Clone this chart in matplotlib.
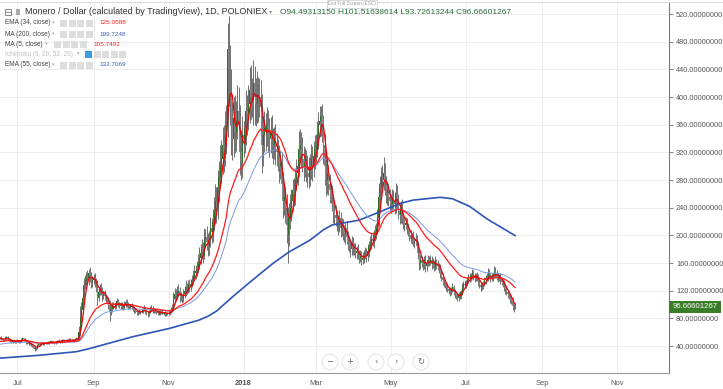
import numpy as np
import pandas as pd
import matplotlib
matplotlib.use("Agg")
import matplotlib.pyplot as plt
import matplotlib.dates as mdates
from matplotlib.patches import Rectangle, Ellipse
from matplotlib.ticker import FuncFormatter

plt.rcParams['font.family'] = ['Liberation Sans', 'DejaVu Sans']

# ---------------- data (daily) ----------------
start_date = "2017-06-16"
close_jun17 = [51, 52, 50, 48, 49, 52, 53, 50, 48, 47, 46, 47, 48, 46, 47]
close_jul17 = [48, 46, 47, 49, 51, 50, 47, 45, 44, 43, 44, 42, 40, 39, 35, 37, 41, 43, 42, 45,
               44, 43, 44, 45, 44, 46, 45, 47, 46, 45, 45]
close_aug17 = [46, 47, 48, 47, 46, 48, 49, 48, 47, 48, 49, 50, 49, 48, 47, 49, 50, 51, 50, 60,
               82, 92, 110, 128, 135, 140, 138, 146, 140, 132, 136]
close_sep17 = [138, 134, 128, 110, 118, 125, 120, 112, 116, 112, 108, 106, 100, 90, 94, 100, 98, 97, 102, 105,
               100, 98, 100, 97, 96, 101, 104, 100, 98, 97]
close_oct17 = [98, 96, 94, 92, 90, 89, 88, 90, 89, 91, 92, 94, 90, 87, 86, 89, 93, 95, 92, 90,
               91, 89, 88, 87, 90, 89, 88, 87, 88, 86, 87]
close_nov17 = [88, 90, 92, 95, 108, 115, 112, 118, 120, 112, 110, 108, 115, 120, 125, 122, 128, 126, 130, 135,
               140, 145, 148, 152, 160, 168, 175, 180, 172, 195]
close_dec17 = [198, 190, 185, 195, 210, 205, 220, 235, 250, 240, 270, 285, 300, 310, 330, 320, 345, 360, 470, 440,
               400, 360, 340, 370, 350, 365, 380, 360, 320, 305, 345]
close_jan18 = [340, 355, 380, 375, 390, 410, 400, 395, 420, 400, 390, 405, 395, 400, 385, 330, 345, 355, 350, 360,
               345, 340, 350, 335, 330, 340, 325, 320, 315, 300, 305]
close_feb18 = [275, 250, 255, 240, 215, 200, 225, 240, 250, 265, 260, 280, 290, 300, 325, 330, 320, 310, 300, 305,
               295, 290, 285, 300, 310, 300, 315, 325]
close_mar18 = [330, 345, 360, 365, 372, 360, 330, 300, 280, 290, 275, 265, 260, 250, 235, 230, 225, 220, 215, 225,
               210, 215, 205, 200, 210, 198, 190, 185, 180, 190, 182]
close_apr18 = [180, 175, 178, 172, 168, 170, 165, 168, 172, 175, 170, 178, 185, 190, 195, 192, 200, 205, 210, 225,
               255, 270, 285, 280, 290, 275, 260, 265, 255, 250]
close_may18 = [245, 255, 250, 245, 260, 250, 235, 230, 240, 225, 220, 215, 218, 210, 205, 200, 195, 198, 190, 192,
               195, 185, 175, 160, 165, 160, 158, 165, 155, 160, 165]
close_jun18 = [162, 165, 158, 160, 155, 163, 158, 155, 152, 145, 140, 135, 130, 128, 125, 122, 120, 118, 122, 125,
               118, 115, 112, 110, 115, 112, 118, 125, 130, 128]
close_jul18 = [132, 135, 140, 138, 142, 145, 140, 138, 142, 140, 132, 128, 125, 128, 130, 135, 138, 140, 145, 142,
               138, 140, 142, 148, 145, 140, 138, 140, 135, 132, 130]
close_aug18 = [125, 122, 118, 115, 112, 108, 105, 98, 94.49313150, 96.66601267]
first_open = 50.5

# upper / lower wick sizes, percent beyond the candle body
up_jun17 = [3, 2, 4, 2, 3, 4, 2, 3, 2, 3, 2, 3, 2, 2, 3]
lo_jun17 = [2, 3, 2, 3, 2, 2, 3, 2, 3, 2, 3, 2, 3, 2, 2]
up_jul17 = [3, 2, 3, 4, 3, 2, 3, 2, 3, 2, 3, 2, 3, 2, 5, 6, 4, 3, 2, 3, 2, 3, 2, 3, 2, 3, 2, 3, 2, 3, 2]
lo_jul17 = [2, 3, 2, 2, 3, 3, 2, 3, 2, 3, 2, 3, 4, 5, 7, 4, 3, 2, 3, 2, 3, 2, 3, 2, 3, 2, 3, 2, 3, 2, 3]
up_aug17 = [2, 3, 2, 3, 2, 3, 2, 3, 2, 3, 2, 3, 2, 3, 2, 3, 2, 3, 2, 15, 20, 12, 10, 8, 6, 5, 7, 4, 6, 5, 4]
lo_aug17 = [3, 2, 3, 2, 3, 2, 3, 2, 3, 2, 3, 2, 3, 2, 3, 2, 3, 2, 3, 3, 8, 10, 6, 5, 4, 6, 5, 7, 5, 6, 5]
up_sep17 = [4, 5, 3, 6, 5, 4, 5, 4, 3, 4, 3, 4, 5, 6, 5, 4, 3, 4, 3, 4, 3, 4, 3, 4, 3, 4, 3, 4, 3, 3]
lo_sep17 = [5, 6, 8, 10, 5, 4, 5, 6, 4, 5, 4, 5, 6, 15, 6, 5, 4, 3, 4, 3, 4, 3, 4, 3, 4, 3, 4, 3, 4, 3]
up_oct17 = [3, 4, 3, 4, 3, 2, 3, 4, 3, 4, 3, 5, 3, 2, 3, 4, 5, 4, 3, 2, 3, 2, 3, 2, 3, 2, 3, 2, 3, 2, 3]
lo_oct17 = [3, 2, 3, 4, 3, 4, 3, 2, 3, 2, 3, 2, 4, 3, 4, 3, 2, 3, 4, 3, 2, 3, 4, 3, 2, 3, 2, 3, 4, 3, 2]
up_nov17 = [3, 4, 5, 6, 10, 8, 6, 7, 8, 5, 6, 5, 7, 6, 8, 5, 6, 7, 5, 6, 7, 8, 6, 7, 8, 9, 7, 8, 6, 8]
lo_nov17 = [2, 3, 2, 3, 4, 6, 5, 4, 6, 7, 5, 6, 4, 5, 6, 5, 4, 6, 5, 4, 5, 4, 6, 5, 4, 5, 6, 5, 7, 4]
up_dec17 = [6, 8, 7, 6, 8, 7, 8, 9, 10, 8, 9, 8, 10, 9, 8, 9, 10, 8, 8, 10, 8, 10, 9, 8, 9, 8, 10, 9, 8, 10, 8]
lo_dec17 = [7, 6, 8, 7, 6, 8, 7, 6, 8, 9, 7, 8, 6, 8, 7, 9, 6, 8, 5, 12, 10, 12, 9, 8, 9, 8, 7, 9, 10, 8, 7]
up_jan18 = [6, 7, 8, 6, 7, 8, 9, 7, 8, 6, 7, 8, 6, 7, 6, 5, 8, 7, 6, 7, 6, 7, 6, 7, 6, 5, 6, 7, 6, 5, 6]
lo_jan18 = [8, 6, 7, 8, 6, 7, 8, 6, 9, 10, 8, 7, 8, 6, 8, 12, 9, 7, 8, 6, 7, 8, 6, 7, 8, 6, 7, 6, 7, 8, 6]
up_feb18 = [5, 6, 7, 6, 8, 12, 10, 8, 7, 6, 7, 6, 7, 6, 8, 7, 6, 7, 6, 7, 6, 7, 8, 6, 7, 6, 7, 6]
lo_feb18 = [8, 10, 8, 9, 12, 20, 8, 7, 8, 6, 7, 6, 5, 6, 5, 6, 7, 6, 7, 5, 6, 7, 6, 5, 6, 7, 5, 6]
up_mar18 = [5, 6, 5, 6, 4, 5, 4, 5, 6, 5, 4, 5, 4, 5, 4, 5, 6, 5, 4, 5, 4, 5, 4, 5, 4, 5, 4, 5, 4, 5, 4]
lo_mar18 = [6, 5, 6, 5, 6, 7, 8, 9, 8, 7, 6, 7, 5, 6, 7, 6, 5, 6, 7, 5, 6, 5, 6, 5, 6, 5, 6, 5, 6, 5, 6]
up_apr18 = [4, 5, 4, 5, 4, 5, 4, 5, 4, 5, 4, 5, 4, 5, 4, 5, 4, 5, 4, 6, 8, 6, 5, 6, 8, 5, 4, 5, 4, 5]
lo_apr18 = [5, 4, 5, 4, 5, 4, 5, 4, 5, 4, 5, 4, 5, 4, 5, 4, 5, 4, 5, 4, 5, 6, 5, 6, 5, 6, 5, 6, 5, 6]
up_may18 = [4, 5, 4, 5, 6, 5, 4, 5, 4, 5, 4, 3, 4, 3, 4, 3, 4, 3, 4, 3, 4, 3, 4, 3, 4, 3, 4, 3, 4, 3, 4]
lo_may18 = [5, 4, 5, 6, 5, 4, 5, 6, 5, 4, 5, 4, 3, 4, 3, 4, 3, 4, 3, 4, 3, 4, 5, 6, 5, 4, 5, 4, 5, 4, 3]
up_jun18 = [3, 4, 3, 5, 3, 4, 2, 4, 3, 4, 3, 4, 3, 2, 3, 4, 3, 4, 3, 5, 3, 4, 2, 4, 3, 4, 3, 5, 3, 4]
lo_jun18 = [4, 3, 4, 3, 4, 3, 4, 3, 4, 5, 4, 5, 4, 3, 4, 3, 4, 5, 4, 3, 4, 5, 4, 5, 4, 3, 4, 3, 4, 3]
up_jul18 = [3, 4, 3, 4, 3, 4, 3, 4, 3, 4, 3, 4, 3, 4, 3, 4, 3, 4, 5, 4, 3, 4, 3, 5, 4, 3, 4, 3, 4, 3, 4]
lo_jul18 = [3, 4, 3, 4, 3, 4, 3, 4, 3, 4, 4, 3, 4, 3, 4, 3, 4, 3, 4, 3, 4, 3, 4, 3, 4, 3, 4, 3, 4, 3, 4]
up_aug18 = [4, 3, 4, 3, 4, 3, 4, 5, 3, 5.02]
lo_aug18 = [4, 5, 4, 5, 4, 5, 4, 6, 5, 0.8]

# indicator starting values and MA(200)
ema34_seed = 46.0
ema55_seed = 42.0
ma200_dates = ["2017-06-16", "2017-07-18", "2017-08-18", "2017-08-29", "2017-10-03", "2017-11-02",
               "2017-11-26", "2017-12-03", "2017-12-10", "2017-12-23", "2018-01-08", "2018-01-25",
               "2018-02-07", "2018-02-24", "2018-03-07", "2018-03-14", "2018-04-05", "2018-04-22",
               "2018-05-08", "2018-05-19", "2018-06-10", "2018-06-20", "2018-07-04", "2018-07-18",
               "2018-08-10"]
ma200_vals = [22.4, 26.5, 31.8, 36.5, 53.5, 65.6, 77.6, 83, 90.5, 111, 135, 159.5,
              176, 193, 208, 215, 222, 234, 246, 251, 255, 253, 242, 224, 199.7]

month_ticks = ["2017-07-01", "2017-09-01", "2017-11-01", "2018-01-01", "2018-03-01",
               "2018-05-01", "2018-07-01", "2018-09-01", "2018-11-01"]
month_labels = ["Jul", "Sep", "Nov", "2018", "Mar", "May", "Jul", "Sep", "Nov"]
y_ticks = [40, 80, 120, 160, 200, 240, 280, 320, 360, 400, 440, 480, 520]

legend_rows = [("EMA (34, close)", "125.0588", "#ff2020"),
               ("MA (200, close)", "199.7248", "#3a5fb0"),
               ("MA (5, close)", "105.7492", "#ff2020"),
               ("Ichimoku (9, 26, 52, 26)", "", "#c8c8c8"),
               ("EMA (55, close)", "132.7069", "#3a5fb0")]

# ---------------- assemble ----------------
closes = np.array(close_jun17 + close_jul17 + close_aug17 + close_sep17 + close_oct17 + close_nov17 +
                  close_dec17 + close_jan18 + close_feb18 + close_mar18 + close_apr18 + close_may18 +
                  close_jun18 + close_jul18 + close_aug18, dtype=float)
upw = np.array(up_jun17 + up_jul17 + up_aug17 + up_sep17 + up_oct17 + up_nov17 + up_dec17 + up_jan18 +
               up_feb18 + up_mar18 + up_apr18 + up_may18 + up_jun18 + up_jul18 + up_aug18, dtype=float)
low_w = np.array(lo_jun17 + lo_jul17 + lo_aug17 + lo_sep17 + lo_oct17 + lo_nov17 + lo_dec17 + lo_jan18 +
                 lo_feb18 + lo_mar18 + lo_apr18 + lo_may18 + lo_jun18 + lo_jul18 + lo_aug18, dtype=float)
opens = np.concatenate([[first_open], closes[:-1]])
highs = np.maximum(opens, closes) * (1 + upw / 100)
lows = np.minimum(opens, closes) * (1 - low_w / 100)
dates = pd.date_range(start_date, periods=len(closes), freq="D")
xd = mdates.date2num(dates.to_pydatetime())

cs = pd.Series(closes)
ma5 = cs.rolling(5, min_periods=1).mean().values
ema34 = pd.Series(np.concatenate([[ema34_seed], closes])).ewm(span=34, adjust=False).mean().values[1:]
ema55 = pd.Series(np.concatenate([[ema55_seed], closes])).ewm(span=55, adjust=False).mean().values[1:]
ma200_x = mdates.date2num(pd.to_datetime(ma200_dates).to_pydatetime())

# ---------------- draw ----------------
W, H = 723, 389
fig = plt.figure(figsize=(W / 100, H / 100), dpi=100)
ax = fig.add_axes([0, 16 / H, 669 / W, (373 - 3) / H])

t0 = pd.Timestamp("2017-07-01")
x_left = mdates.date2num((t0 + pd.Timedelta(days=-14.2)).to_pydatetime())
x_right = mdates.date2num((t0 + pd.Timedelta(days=530.3)).to_pydatetime())
ax.set_xlim(x_left, x_right)
ax.set_ylim(1, 536)

ax.grid(True, color="#eeeeee", lw=0.8)
ax.set_axisbelow(True)

up = closes >= opens
dn = ~up
ax.vlines(xd, lows, highs, color="#5a5a5a", lw=0.6, zorder=2)
ax.bar(xd[up], (closes - opens)[up], bottom=opens[up], width=0.8, color="#2a6e2a", lw=0, zorder=3)
ax.bar(xd[dn], (opens - closes)[dn], bottom=closes[dn], width=0.8, color="#8a8a8a", lw=0, zorder=3)

ax.plot(ma200_x, ma200_vals, color="#2c55b5", lw=1.2, zorder=4)
ax.plot(xd, ema55, color="#7d98da", lw=0.7, zorder=4)
ax.plot(xd, ema34, color="#ff1a1a", lw=0.9, zorder=5)
ax.plot(xd, ma5, color="#ee0000", lw=0.9, zorder=5)

for s in ["left", "top"]:
    ax.spines[s].set_visible(False)
ax.spines["right"].set_color("#7a7a7a")
ax.spines["bottom"].set_color("#9a9a9a")

ax.set_yticks(y_ticks)
ax.yaxis.set_major_formatter(FuncFormatter(lambda v, p: f"{v:.8f}"))
ax.yaxis.tick_right()
ax.tick_params(axis="y", length=3, color="#888888", labelsize=5.3, labelcolor="#555555", pad=2)

ax.set_xticks(mdates.date2num(pd.to_datetime(month_ticks).to_pydatetime()))
ax.set_xticklabels(month_labels)
ax.tick_params(axis="x", length=0, labelsize=5.4, labelcolor="#555555", pad=5)
ax.get_xticklabels()[3].set_fontweight("bold")

def fx(x):
    return x / W

def fy(y):
    return 1 - y / H

# top border
fig.add_artist(plt.Line2D([0, 1], [fy(2), fy(2)], color="#dddddd", lw=0.8, transform=fig.transFigure))

# title row
fig.add_artist(Rectangle((fx(5), fy(15)), 6 / W, 6 / H, transform=fig.transFigure,
                         facecolor="white", edgecolor="#777777", lw=0.6))
fig.add_artist(plt.Line2D([fx(6.5), fx(9.5)], [fy(12), fy(12)], color="#777777", lw=0.6,
                          transform=fig.transFigure))
fig.add_artist(Rectangle((fx(16), fy(15)), 4 / W, 6 / H, transform=fig.transFigure,
                         facecolor="#aaaaaa", edgecolor="none"))
fig.text(fx(25), fy(12), "Monero / Dollar (calculated by TradingView), 1D, POLONIEX",
         fontsize=6.45, color="#333333", va="center", ha="left")
fig.text(fx(269), fy(12), "▾", fontsize=4.5, color="#999999", va="center", ha="left",
         family=["DejaVu Sans"])
fig.text(fx(280), fy(12), "O94.49313150 H101.51638614 L93.72613244 C96.66601267",
         fontsize=6.0, color="#2a6a3a", va="center", ha="left")

# indicator rows
row_y = [23, 34, 44, 54, 65]
box_x0 = [60, 60, 54, 85, 60]
name_end = [52, 52, 45, 77, 52]
nbox = [4, 4, 4, 5, 4]
for (name, val, col), y, bx, ne, nb in zip(legend_rows, row_y, box_x0, name_end, nbox):
    tc = "#c0c0c0" if name.startswith("Ichimoku") else "#444444"
    fig.text(fx(5), fy(y), name, fontsize=4.7, color=tc, va="center", ha="left")
    fig.text(fx(ne), fy(y), "▾", fontsize=3.6, color="#aaaaaa", va="center", ha="left",
             family=["DejaVu Sans"])
    for k in range(nb):
        fc = "#3b9de0" if (name.startswith("Ichimoku") and k == 0) else "#dddddd"
        fig.add_artist(Rectangle((fx(bx + k * 8.5), fy(y + 3.5)), 7 / W, 7 / H,
                                 transform=fig.transFigure, facecolor=fc, edgecolor="none"))
    if val:
        fig.text(fx(bx + nb * 8.5 + 5), fy(y), val, fontsize=4.6, color=col, va="center", ha="left")

# exit full screen hint
fig.text(fx(352), fy(4), "Exit Full Screen (ESC)", fontsize=3.4, color="#999999", va="center",
         ha="center", bbox=dict(boxstyle="square,pad=0.3", facecolor="white", edgecolor="#cccccc", lw=0.5))

# last price label
fig.add_artist(Rectangle((fx(669), fy(313)), 52 / W, 12 / H, transform=fig.transFigure,
                         facecolor="#3a7d28", edgecolor="none"))
fig.text(fx(695), fy(307), "96.66601267", fontsize=5.6, color="white", va="center", ha="center")

# navigation buttons
for bxp, sym in zip([330, 350, 376, 396, 421], ["−", "+", "‹", "›", "↻"]):
    fig.add_artist(Ellipse((fx(bxp), fy(362)), 16 / W, 16 / H, transform=fig.transFigure,
                           facecolor="white", edgecolor="#e6e6e6", lw=0.8, zorder=10))
    fig.text(fx(bxp), fy(362), sym, fontsize=6, color="#666666", va="center", ha="center",
             family=["DejaVu Sans"], zorder=11)

fig.savefig("out.png", dpi=100)
